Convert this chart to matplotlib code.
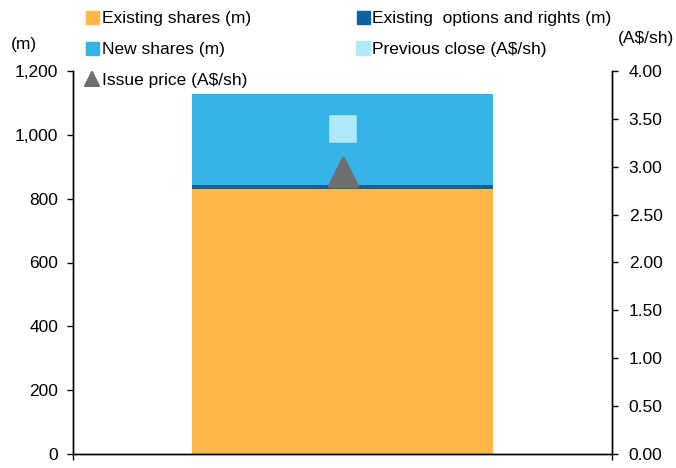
import matplotlib
matplotlib.use("Agg")
import matplotlib.pyplot as plt
from matplotlib.lines import Line2D
from matplotlib.markers import MarkerStyle
import matplotlib.patches as mpatches

plt.rcParams["font.family"] = ["Liberation Sans", "DejaVu Sans"]
plt.rcParams["font.size"] = 12.5

# ─── dados ────────────────────────────────────────────────────────────────────
categories       = [""]
existing_shares  = [830]
existing_options = [12]
new_shares       = [286]
previous_close   = [3.39]
issue_price      = [2.95]

COR = {
    "existing": "#FFB847",
    "options" : "#0A64A4",
    "new"     : "#33B3E6",
    "prev"    : "#AEEAFC",
    "issue"   : "#6E6E6E",
}

fig = plt.figure(figsize=(6.76, 4.68), dpi=100)
ax = fig.add_axes([73 / 676, 1 - 454 / 468, (612 - 73) / 676, (454 - 71) / 468])
ax2 = ax.twinx()

x = list(range(len(categories)))
w = 0.56
ax.bar(x, existing_shares, w, color=COR["existing"], zorder=2)
ax.bar(x, existing_options, w, bottom=existing_shares, color=COR["options"], zorder=2)
bottom3 = [a + b for a, b in zip(existing_shares, existing_options)]
ax.bar(x, new_shares, w, bottom=bottom3, color=COR["new"], zorder=2)

# marcadores de preço no eixo direito (cantos arredondados)
sq  = MarkerStyle("s", joinstyle="round")
tri = MarkerStyle("^", joinstyle="round")
ax2.plot(x, previous_close, linestyle="none", marker=sq, markersize=19,
         color=COR["prev"], markeredgewidth=1.2, markeredgecolor=COR["prev"],
         zorder=3)
ax2.plot(x, issue_price, linestyle="none", marker=tri, markersize=20,
         color=COR["issue"], markeredgewidth=2.5, markeredgecolor=COR["issue"],
         zorder=3)

ax.set_xlim(-0.5, 0.5)
ax.set_ylim(0, 1200)
ax2.set_ylim(0, 4)
ax.set_yticks(range(0, 1201, 200))
ax.set_yticklabels([f"{v:,}" for v in range(0, 1201, 200)])
ax2.set_yticks([i * 0.5 for i in range(9)])
ax2.set_yticklabels([f"{i * 0.5:.2f}" for i in range(9)])
ax.set_xticks([-0.5, 0.5])
ax.set_xticklabels(["", ""])

for a in (ax, ax2):
    a.spines["top"].set_visible(False)
    for s in a.spines.values():
        s.set_linewidth(1.0)
    a.tick_params(direction="out", length=4.5, width=1, colors="black", labelsize=12.5)
ax.tick_params(axis="y", pad=6)
ax2.tick_params(axis="y", pad=7.5)

fig.text(24 / 676, 1 - 44 / 468, "(m)", fontsize=12.5, ha="center", va="center")
fig.text(646 / 676, 1 - 38 / 468, "(A$/sh)", fontsize=12.5, ha="center", va="center")

handles = [
    mpatches.Patch(color=COR["existing"], label="Existing shares (m)"),
    mpatches.Patch(color=COR["new"], label="New shares (m)"),
    Line2D([], [], linestyle="none", marker=tri, markersize=10,
           markeredgewidth=1.5, color=COR["issue"], label="Issue price (A$/sh)"),
    mpatches.Patch(color=COR["options"], label="Existing  options and rights (m)"),
    Line2D([], [], linestyle="none", marker="s", markersize=10,
           color=COR["prev"], label="Previous close (A$/sh)"),
]
fig.legend(handles=handles, ncol=2, frameon=False, loc="upper left",
           bbox_to_anchor=(79 / 676, 1 - 4 / 468), fontsize=12.5,
           handlelength=0.75, handleheight=0.75, handletextpad=0.15,
           columnspacing=6.1, labelspacing=0.9, borderaxespad=0)

fig.savefig("out.png", dpi=100)
